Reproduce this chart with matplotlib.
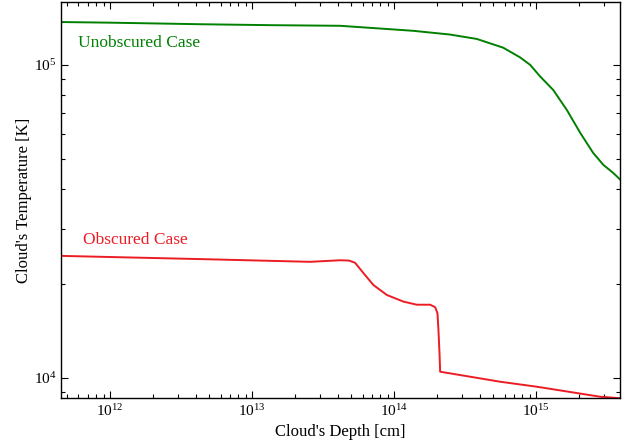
import numpy as np
import matplotlib
matplotlib.use("Agg")
import matplotlib.pyplot as plt
from matplotlib.ticker import LogLocator, NullFormatter

plt.rcParams['font.family'] = ['Liberation Serif', 'DejaVu Serif']
plt.rcParams['mathtext.fontset'] = 'custom'
plt.rcParams['mathtext.rm'] = 'Liberation Serif'
plt.rcParams['mathtext.it'] = 'Liberation Serif:italic'

# log10 of depth [cm] and temperature [K]
unobs_logx = [11.655, 12.000, 12.634, 13.127, 13.620, 14.134, 14.394, 14.582,
              14.768, 14.887, 14.958, 15.028, 15.120, 15.216, 15.310, 15.401,
              15.472, 15.542, 15.600]
unobs_logT = [5.137, 5.135, 5.130, 5.127, 5.125, 5.109, 5.097, 5.083,
              5.055, 5.024, 5.000, 4.963, 4.920, 4.856, 4.783, 4.719,
              4.681, 4.655, 4.630]

obs_logx = [11.655, 12.704, 13.408, 13.620, 13.683, 13.725, 13.784, 13.854,
            13.949, 14.065, 14.160, 14.254, 14.289, 14.305, 14.312, 14.320,
            14.324, 14.746, 15.005, 15.451, 15.600]
obs_logT = [4.390, 4.379, 4.371, 4.376, 4.375, 4.368, 4.335, 4.297,
            4.265, 4.244, 4.234, 4.234, 4.226, 4.207, 4.153, 4.073,
            4.020, 3.988, 3.972, 3.940, 3.935]

fig = plt.figure(figsize=(6.29, 4.45), dpi=100)
ax = fig.add_axes([61/629, 1 - 398/445, (620-61)/629, (398-2)/445])

ax.plot(10**np.array(unobs_logx), 10**np.array(unobs_logT), color='#008000',
        lw=1.4, solid_joinstyle='round')
ax.plot(10**np.array(obs_logx), 10**np.array(obs_logT), color='#ec1c24',
        lw=1.4, solid_joinstyle='round')

ax.set_xscale('log')
ax.set_yscale('log')
ax.set_xlim(10**11.655, 10**15.59)
ax.set_ylim(10**3.936, 10**5.201)

ax.xaxis.set_major_locator(LogLocator(base=10, numticks=20))
ax.xaxis.set_minor_locator(LogLocator(base=10, subs=np.arange(2, 10), numticks=50))
ax.yaxis.set_major_locator(LogLocator(base=10, numticks=20))
ax.yaxis.set_minor_locator(LogLocator(base=10, subs=np.arange(2, 10), numticks=50))
ax.xaxis.set_minor_formatter(NullFormatter())
ax.yaxis.set_minor_formatter(NullFormatter())

ax.tick_params(which='both', direction='in', top=True, right=True,
               labelsize=11, width=0.8, color='black')
ax.tick_params(which='major', length=5)
ax.tick_params(which='minor', length=3)
for s in ax.spines.values():
    s.set_linewidth(1.0)

ax.set_xlabel("Cloud's Depth [cm]", fontsize=12, labelpad=4)
ax.set_ylabel("Cloud's Temperature [K]", fontsize=12, labelpad=1)

ax.text(10**11.775, 10**5.07, "Unobscured Case", color='#008000', fontsize=12.5,
        va='center', ha='left')
ax.text(10**11.81, 10**4.44, "Obscured Case", color='#ec1c24', fontsize=12.5,
        va='center', ha='left')

fig.savefig("out.png", dpi=100)
